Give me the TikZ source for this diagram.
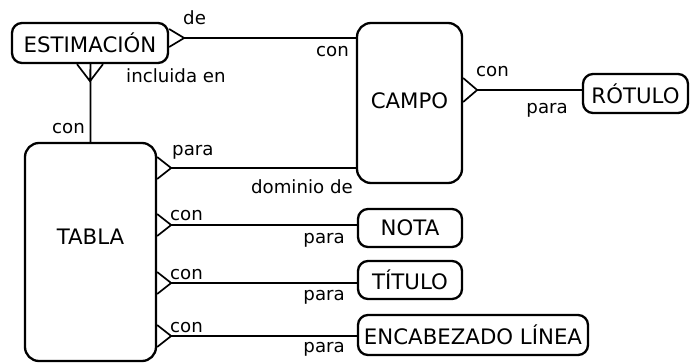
\documentclass[tikz,border=0pt]{standalone}
\usepackage{fontspec}
\setmainfont{DejaVu Sans}
\usetikzlibrary{calc}
\begin{document}
\begin{tikzpicture}[x=1pt,y=-1pt,
  ent/.style={draw,line width=2.3pt,rounded corners=10pt,fill=white,inner sep=0pt,font=\fontsize{21.3}{25}\selectfont},
  bigent/.style={ent,rounded corners=14pt},
  lbl/.style={inner sep=0pt,font=\fontsize{18.2}{21}\selectfont},
  conn/.style={line width=1.7pt},
  crow/.style={line width=1.7pt}]
\useasboundingbox (0,0) rectangle (691,362);
% entities
\node[ent,minimum width=156pt,minimum height=40pt] (estim) at (90,43) {ESTIMACIÓN};
\node[bigent,minimum width=105pt,minimum height=160pt] (campo) at (409.5,103) {};
\node[lbl,font=\fontsize{21.3}{25}\selectfont] (campotxt) at (409.5,101) {CAMPO};
\node[ent,minimum width=105pt,minimum height=39pt] (rotulo) at (635.5,93.5) {RÓTULO};
\node[bigent,minimum width=131pt,minimum height=218pt] (tabla) at (90.5,252) {};
\node[lbl,font=\fontsize{21.3}{25}\selectfont] (tablatxt) at (90.5,237) {TABLA};
\node[ent,minimum width=104pt,minimum height=38pt] (nota) at (410,228) {NOTA};
\node[ent,minimum width=104pt,minimum height=38pt] (titulo) at (410,280) {TÍTULO};
\node[ent,minimum width=230pt,minimum height=40pt] (encab) at (473,335) {ENCABEZADO LÍNEA};
% ESTIMACION - CAMPO
\coordinate (a1) at (estim.east |- 0,38);
\draw[crow] ($(a1)+(0,-9)$) -- ($(a1)+(15,0)$) -- ($(a1)+(0,9)$);
\draw[conn] ($(a1)+(15,0)$) -- (campo.west |- a1);
% ESTIMACION - TABLA
\coordinate (b1) at (estim.south);
\draw[crow] ($(b1)+(-13,0)$) -- ($(b1)+(0,17)$) -- ($(b1)+(13,0)$);
\draw[conn] ($(b1)+(0,17)$) -- (tabla.north |- b1) -- (tabla.north);
% CAMPO - ROTULO
\coordinate (c1) at (campo.east |- 0,90);
\draw[crow] ($(c1)+(0,-12)$) -- ($(c1)+(14,0)$) -- ($(c1)+(0,12)$);
\draw[conn] ($(c1)+(14,0)$) -- (rotulo.west |- c1);
% TABLA - CAMPO / NOTA / TITULO / ENCAB
\foreach \yy/\tg in {168/campo,225/nota,283/titulo,336/encab}{
  \coordinate (t1) at (tabla.east |- 0,\yy);
  \draw[crow] ($(t1)+(0,-11)$) -- ($(t1)+(14,0)$) -- ($(t1)+(0,11)$);
  \draw[conn] ($(t1)+(14,0)$) -- (\tg.west |- t1);
}
% labels
\node[lbl,anchor=base west] (l1) at (183,24) {de};
\node[lbl,anchor=base east] (l2) at (349,56) {con};
\node[lbl,anchor=base west] (l3) at (126,82) {incluida en};
\node[lbl,anchor=base west] (l4) at (52,133) {con};
\node[lbl,anchor=base west] (l5) at (172,155) {para};
\node[lbl,anchor=base east] (l6) at (353,193) {dominio de};
\node[lbl,anchor=base west] (l7) at (476,76) {con};
\node[lbl,anchor=base east] (l8) at (568,113) {para};
\node[lbl,anchor=base west] (l9) at (170,220) {con};
\node[lbl,anchor=base west] (l10) at (170,279) {con};
\node[lbl,anchor=base west] (l11) at (170,332) {con};
\node[lbl,anchor=base east] (l12) at (345,243) {para};
\node[lbl,anchor=base east] (l13) at (345,300) {para};
\node[lbl,anchor=base east] (l14) at (345,352) {para};
\end{tikzpicture}
\end{document}
